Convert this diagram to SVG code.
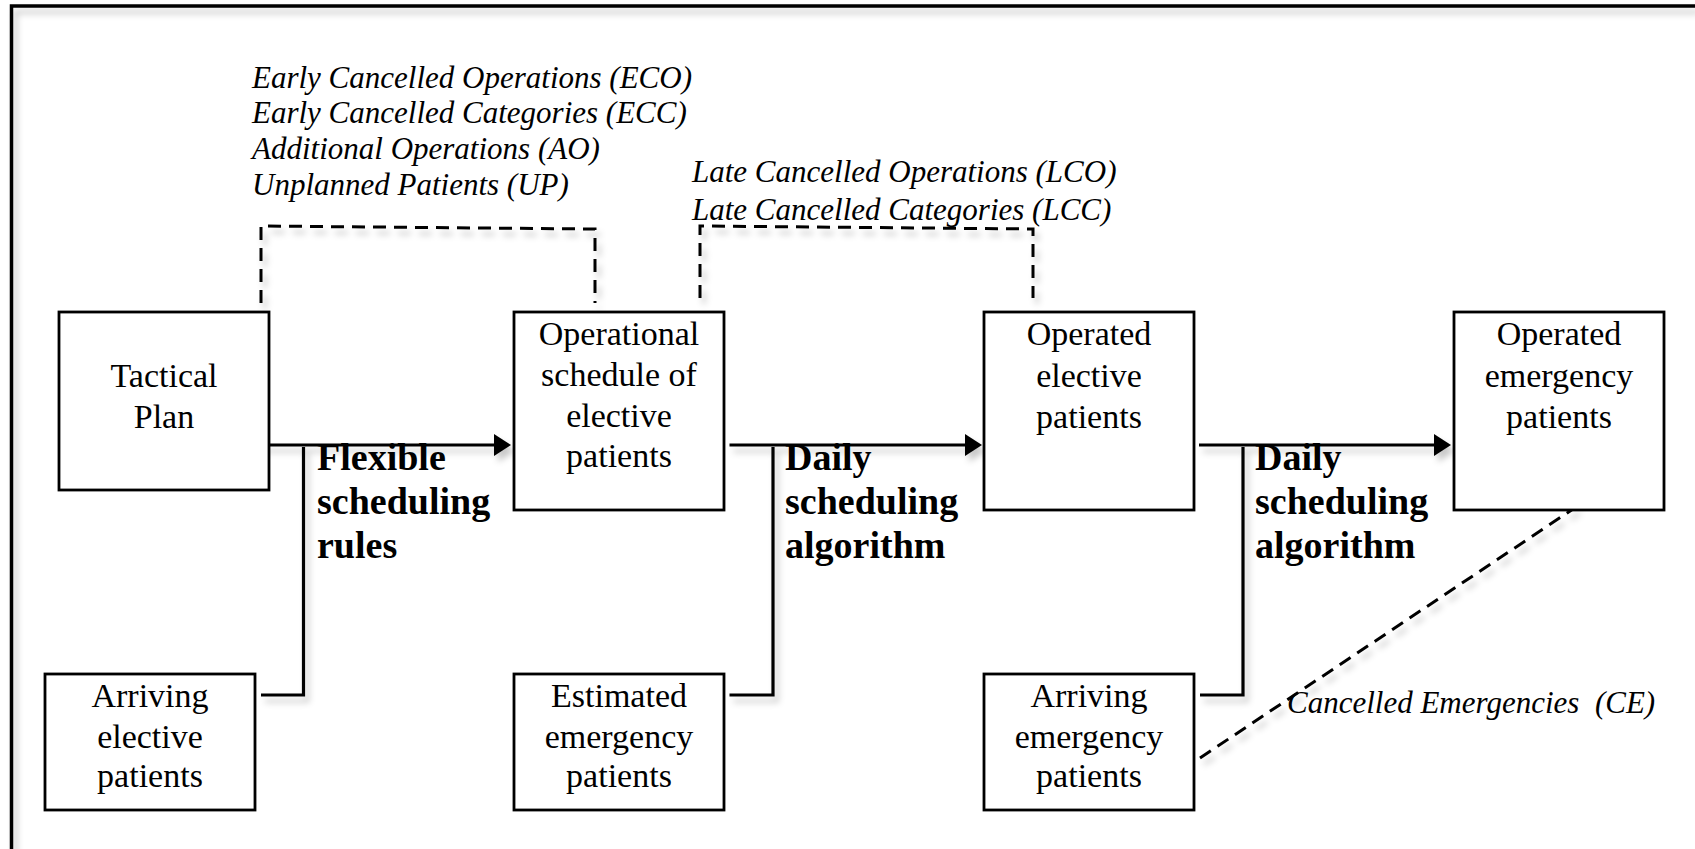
<svg xmlns="http://www.w3.org/2000/svg" width="1695" height="849" viewBox="0 0 1695 849">
<style>
.box{fill:#fff;stroke:#000;stroke-width:2.8}
.lbl{font-family:"Liberation Serif","Times New Roman",serif;font-size:34px;text-anchor:middle;fill:#000}
.bold{font-family:"Liberation Serif","Times New Roman",serif;font-size:38px;font-weight:bold;fill:#000}
.ital{font-family:"Liberation Serif","Times New Roman",serif;font-size:31px;font-style:italic;fill:#000}
.solid{fill:none;stroke:#000;stroke-width:3.2}
.dash{fill:none;stroke:#000;stroke-width:3;stroke-dasharray:13 8}
</style>
<defs>
<filter id="sh" x="-10%" y="-10%" width="130%" height="140%">
<feDropShadow dx="4" dy="6" stdDeviation="3" flood-color="#000" flood-opacity="0.22"/>
</filter>
<marker id="arr" markerUnits="userSpaceOnUse" markerWidth="18" markerHeight="24" refX="0" refY="11" orient="auto">
<path d="M0 0 L17 11 L0 22 Z" fill="#000"/>
</marker>
</defs>
<rect width="1695" height="849" fill="#fff"/>
<g id="frame" filter="url(#sh)">
<path d="M11.5 849 V6 H1695" fill="none" stroke="#000" stroke-width="3.5"/>
</g>
<g id="connectors" filter="url(#sh)">
<path class="solid" d="M261 445 H494" marker-end="url(#arr)"/>
<path class="solid" d="M303.5 447 V695 H261"/>
<path class="solid" d="M729.5 445 H965" marker-end="url(#arr)"/>
<path class="solid" d="M773 447 V695 H729.5"/>
<path class="solid" d="M1199 445 H1434" marker-end="url(#arr)"/>
<path class="solid" d="M1243 447 V695 H1200"/>
<path class="dash" d="M261 303 V226 L595 229 V303"/>
<path class="dash" d="M700 298 V226 L1033 229 V298"/>
<path class="dash" d="M1200 758 L1576 507"/>
</g>
<g id="tactical">
<rect class="box" x="59" y="312" width="210" height="178"/>
<text class="lbl" x="164" y="387">Tactical</text>
<text class="lbl" x="164" y="428">Plan</text>
</g>
<g id="operational">
<rect class="box" x="514" y="312" width="210" height="198"/>
<text class="lbl" x="619" y="345">Operational</text>
<text class="lbl" x="619" y="386">schedule of</text>
<text class="lbl" x="619" y="427">elective</text>
<text class="lbl" x="619" y="467">patients</text>
</g>
<g id="operatedElective">
<rect class="box" x="984" y="312" width="210" height="198"/>
<text class="lbl" x="1089" y="345">Operated</text>
<text class="lbl" x="1089" y="387">elective</text>
<text class="lbl" x="1089" y="428">patients</text>
</g>
<g id="operatedEmergency">
<rect class="box" x="1454" y="312" width="210" height="198"/>
<text class="lbl" x="1559" y="345">Operated</text>
<text class="lbl" x="1559" y="387">emergency</text>
<text class="lbl" x="1559" y="428">patients</text>
</g>
<g id="arrivingElective">
<rect class="box" x="45" y="674" width="210" height="136"/>
<text class="lbl" x="150" y="707">Arriving</text>
<text class="lbl" x="150" y="748">elective</text>
<text class="lbl" x="150" y="787">patients</text>
</g>
<g id="estimatedEmergency">
<rect class="box" x="514" y="674" width="210" height="136"/>
<text class="lbl" x="619" y="707">Estimated</text>
<text class="lbl" x="619" y="748">emergency</text>
<text class="lbl" x="619" y="787">patients</text>
</g>
<g id="arrivingEmergency">
<rect class="box" x="984" y="674" width="210" height="136"/>
<text class="lbl" x="1089" y="707">Arriving</text>
<text class="lbl" x="1089" y="748">emergency</text>
<text class="lbl" x="1089" y="787">patients</text>
</g>
<g id="labels">
<text class="bold" x="317" y="470">Flexible</text>
<text class="bold" x="317" y="514">scheduling</text>
<text class="bold" x="317" y="558">rules</text>
<text class="bold" x="785" y="470">Daily</text>
<text class="bold" x="785" y="514">scheduling</text>
<text class="bold" x="785" y="558">algorithm</text>
<text class="bold" x="1255" y="470">Daily</text>
<text class="bold" x="1255" y="514">scheduling</text>
<text class="bold" x="1255" y="558">algorithm</text>
<text class="ital" x="252" y="87.5">Early Cancelled Operations (ECO)</text>
<text class="ital" x="252" y="123.2">Early Cancelled Categories (ECC)</text>
<text class="ital" x="252" y="158.9">Additional Operations (AO)</text>
<text class="ital" x="252" y="194.6">Unplanned Patients (UP)</text>
<text class="ital" x="692" y="181.6">Late Cancelled Operations (LCO)</text>
<text class="ital" x="692" y="220">Late Cancelled Categories (LCC)</text>
<text class="ital" x="1287" y="713" style="white-space:pre">Cancelled Emergencies  (CE)</text>
</g>
</svg>
